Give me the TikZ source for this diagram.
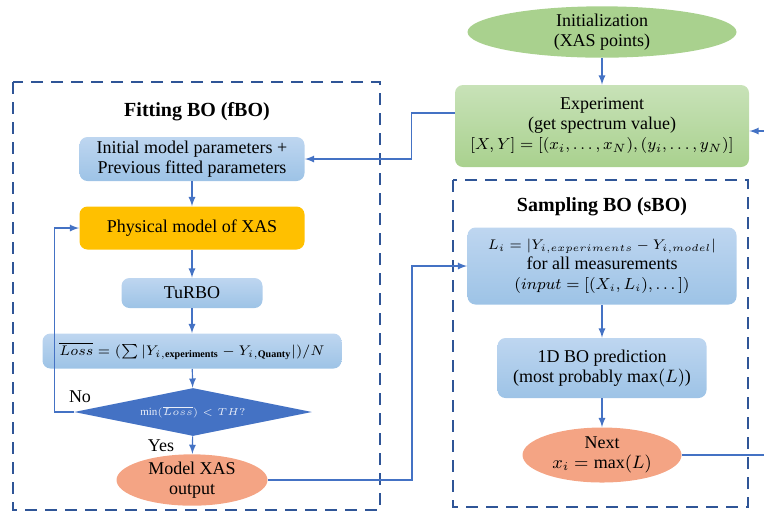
\documentclass[tikz,border=0pt]{standalone}
\usepackage{fontspec}
\setmainfont{Liberation Serif}
\usepackage{amsmath}
\usepackage{tikz}
\usetikzlibrary{calc}
\usetikzlibrary{shapes.geometric}
\usetikzlibrary{positioning}
\usetikzlibrary{arrows.meta}

\definecolor{boxblue}{RGB}{157,195,230}
\definecolor{boxbluetop}{RGB}{190,214,240}
\definecolor{boxgreen}{RGB}{169,209,142}
\definecolor{boxgreentop}{RGB}{200,226,184}
\definecolor{physorange}{RGB}{255,192,0}
\definecolor{salmon}{RGB}{244,164,132}
\definecolor{diablue}{RGB}{68,114,196}
\definecolor{framblue}{RGB}{47,85,151}
\definecolor{linkblue}{RGB}{68,114,196}

\begin{document}
\begin{tikzpicture}[
		x=0.5pt, y=-0.5pt,
		font=\fontsize{9}{10}\selectfont,
		bluebox/.style={rectangle, rounded corners=4pt, top color=boxbluetop, bottom color=boxblue, align=center, inner sep=1pt},
		greenbox/.style={rectangle, rounded corners=4pt, top color=boxgreentop, bottom color=boxgreen, align=center, inner sep=1pt},
		oval/.style={ellipse, align=center, inner sep=0pt},
		frame/.style={draw=framblue, line width=1.4pt, dash pattern=on 6pt off 4pt},
		title/.style={font=\fontsize{10}{12}\selectfont\bfseries},
		arrow/.style={->, >=latex, draw=linkblue, line width=0.6pt}
		]
		
		\useasboundingbox (0,0) rectangle (764,511);
		
		% Rahmen der beiden BO-Schleifen
		\draw[frame] (13,82) rectangle (380,510);
		\draw[frame] (453,180) rectangle (748,507);
		\node[title] (ftitle) at (197,112) {Fitting BO (fBO)};
		\node[title] (stitle) at (602,207) {Sampling BO (sBO)};
		
		% Experiment oben rechts
		\node[oval, fill=boxgreen, minimum width=134.5pt, minimum height=24pt] (init) at (602,32) {Initialization\\(XAS points)};
		\node[greenbox, minimum width=147pt, minimum height=41pt] (exp) at (602,126) {Experiment\\(get spectrum value)\\{\fontsize{8.4}{10}\selectfont$[X,Y]=[(x_i,\dots,x_N),(y_i,\dots,y_N)]$}};
		
		% Fitting BO
		\node[bluebox, minimum width=112.5pt, minimum height=22pt] (initp) at (192,159) {Initial model parameters +\\Previous fitted parameters};
		\node[rectangle, rounded corners=4pt, fill=physorange, minimum width=112.5pt, minimum height=21.5pt] (phys) at (192,228) {Physical model of XAS};
		\node[bluebox, minimum width=70.5pt, minimum height=15pt] (turbo) at (192,293) {TuRBO};
		\node[bluebox, minimum width=149.5pt, minimum height=17.5pt, font=\fontsize{7.2}{9}\selectfont] (loss) at (192,351) {$\overline{Loss}=(\sum|Y_{i,\mathbf{experiments}}-Y_{i,\mathbf{Quanty}}|)/N$};
		\node[diamond, shape aspect=4.96, fill=diablue, minimum width=119pt, minimum height=24pt, inner sep=0pt, text=white!88!diablue, font=\fontsize{5.5}{6}\selectfont] (dia) at (193,412) {$\min(\overline{Loss})<TH?$};
		\node[oval, fill=salmon, minimum width=75.5pt, minimum height=22.5pt] (model) at (192,480) {Model XAS\\output};
		
		% Sampling BO
		\node[bluebox, minimum width=134.5pt, minimum height=38.5pt] (li) at (602,266) {{\fontsize{7.3}{10}\selectfont$L_i=|Y_{i,experiments}-Y_{i,model}|$}\\for all measurements\\{\fontsize{7.8}{10}\selectfont$(input=[(X_i,L_i),\dots])$}};
		\node[bluebox, minimum width=104.5pt, minimum height=30pt] (bo) at (602,368) {1D BO prediction\\(most probably $\max(L)$)};
		\node[oval, fill=salmon, minimum width=79.5pt, minimum height=27.5pt] (next) at (602,455) {Next\\$x_i=\max(L)$};
		
		\node (no) at (80,397) {No};
		\node (yes) at (161,446) {Yes};
		
		% Pfeile
		\draw[arrow] (init) -- (exp);
		\draw[arrow] ([yshift=6.5pt]exp.west) -- ++(-43,0) |- (initp.east);
		\draw[arrow] (initp) -- (phys);
		\draw[arrow] (phys) -- (turbo);
		\draw[arrow] (turbo) -- (loss);
		\draw[arrow] (loss) -- (dia);
		\draw[arrow] (dia) -- (model);
		\draw[arrow] (dia.west) -- ++(-19,0) |- (phys.west);
		\draw[arrow] (model.east) -- ++(144,0) |- (li.west);
		\draw[arrow] (li) -- (bo);
		\draw[arrow] (bo) -- (next);
		\draw[arrow] (next.east) -- ++(86,0) |- ([yshift=-2.5pt]exp.east);
		
	\end{tikzpicture}
\end{document}
